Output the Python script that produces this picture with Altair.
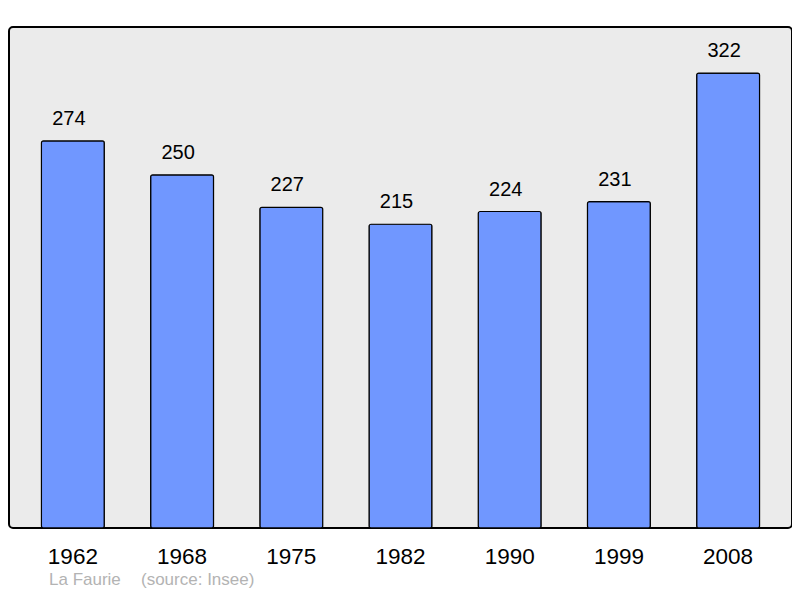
import altair as alt
import pandas as pd

years = ["1962", "1968", "1975", "1982", "1990", "1999", "2008"]
population = [274, 250, 227, 215, 224, 231, 322]
caption_place = "La Faurie"
caption_source = "(source: Insee)"

df = pd.DataFrame({"year": years, "pop": population})

x = alt.X("year:N", sort=years, title=None,
          scale=alt.Scale(paddingInner=0.424, paddingOuter=0.297),
          axis=alt.Axis(labelAngle=0, ticks=False, domain=False, labelPadding=17,
                        labelFontSize=22.5, labelFont="Liberation Sans", labelColor="#000000"))
y = alt.Y("pop:Q", title=None, scale=alt.Scale(domain=[0, 354.6], nice=False, zero=True),
          axis=None)

base = alt.Chart(df)

bars = base.mark_bar(fill="#7097ff", stroke="#000000", strokeWidth=1.2, cornerRadius=2).encode(x=x, y=y)

labels = base.mark_text(dy=-22, dx=-4, fontSize=20, font="Liberation Sans", color="#000000").encode(
    x=x, y=y, text="pop:Q")

cap1 = alt.Chart(pd.DataFrame({"t": [caption_place]})).mark_text(
    align="left", baseline="alphabetic", fontSize=17, font="Liberation Sans", color="#b3b3b3"
).encode(x=alt.value(40), y=alt.value(558), text="t:N")
cap2 = alt.Chart(pd.DataFrame({"t": [caption_source]})).mark_text(
    align="left", baseline="alphabetic", fontSize=17, font="Liberation Sans", color="#b3b3b3"
).encode(x=alt.value(132), y=alt.value(558), text="t:N")

chart = (bars + labels + cap1 + cap2).properties(
    width=783, height=501,
    autosize=alt.AutoSizeParams(type="none"),
    padding={"left": 1, "top": 19, "right": 0, "bottom": 62},
    background="#ffffff",
).configure_view(
    fill="#ebebeb", stroke="#000000", strokeWidth=2, cornerRadius=4
)

chart.save("out.html", embed_options={"renderer": "svg", "actions": False})
